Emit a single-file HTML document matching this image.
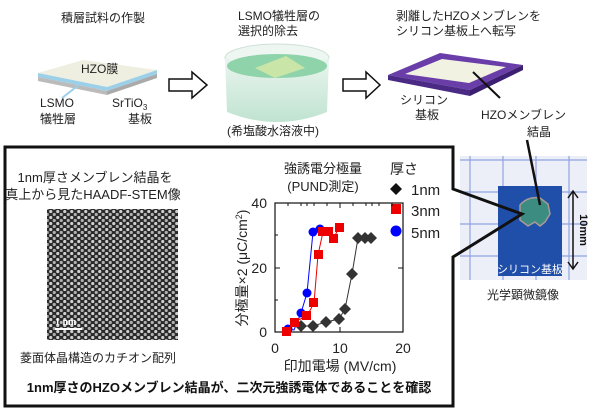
<!DOCTYPE html>
<html><head><meta charset="utf-8"><style>
html,body{margin:0;padding:0;background:#fff;}
svg{display:block;font-family:"Liberation Sans","Noto Sans CJK JP",sans-serif;}
</style></head><body>
<svg width="600" height="415" viewBox="0 0 600 415" xmlns="http://www.w3.org/2000/svg">
<defs>
<pattern id="dots" width="7" height="6" patternUnits="userSpaceOnUse">
<rect width="7" height="6" fill="#2a2a2a"/>
<circle cx="1.75" cy="1.5" r="1.6" fill="#d0d0d0"/>
<circle cx="5.25" cy="4.5" r="1.6" fill="#b0b0b0"/>
</pattern>
<linearGradient id="bk" x1="0" y1="0" x2="0" y2="1"><stop offset="0" stop-color="#e8f4ee"/><stop offset="1" stop-color="#b9e0cb"/></linearGradient>
</defs>
<g font-size="12" fill="#222">
<text x="103" y="22" text-anchor="middle">積層試料の作製</text>
<text x="238" y="20">LSMO犠牲層の</text>
<text x="238" y="35">選択的除去</text>
<text x="396" y="20">剥離したHZOメンブレンを</text>
<text x="396" y="35">シリコン基板上へ転写</text>
</g>
<!-- slab -->
<polygon points="38,73 83,60 157,70 107,87" fill="#eeefe0"/>
<polygon points="38,73 107,87 107,91 38,77" fill="#9ccfe8"/>
<polygon points="107,87 157,70 157,74 107,91" fill="#9ccfe8"/>
<polygon points="38,77 107,91 107,95 38,81" fill="#bbb"/>
<polygon points="107,91 157,74 157,78 107,95" fill="#aaa"/>
<line x1="80" y1="84" x2="62" y2="98" stroke="#9ccfe8" stroke-width="2"/>
<text x="81" y="73" font-size="12" fill="#222">HZO膜</text>
<g font-size="12" fill="#222">
<text x="40" y="107">LSMO</text><text x="40" y="123">犠牲層</text>
<text x="112" y="107">SrTiO<tspan font-size="8" dy="3">3</tspan></text><text x="128" y="123">基板</text>
</g>
<!-- arrows -->
<polygon points="169,79 192,79 192,72 207,85 192,98 192,91 169,91" fill="#fff" stroke="#111" stroke-width="1.5"/>
<polygon points="343,79 366,79 366,72 380,85 366,98 366,91 343,91" fill="#fff" stroke="#111" stroke-width="1.5"/>
<!-- beaker -->
<ellipse cx="277" cy="58" rx="52" ry="14" fill="#eef6f2" stroke="#cfe0d8"/>
<path d="M225,58 L227,112 Q277,132 327,112 L329,58 Q277,76 225,58Z" fill="url(#bk)" opacity="0.9"/>
<ellipse cx="277" cy="66" rx="50" ry="12" fill="#8fd3aa"/>
<polygon points="255,68 286,56 305,68 275,78" fill="#c9e5a8"/>
<text x="227" y="135" font-size="12" fill="#222">(希塩酸水溶液中)</text>
<!-- purple frame -->
<polygon points="388,75 440,53 523,65 470,90" fill="#6a3ea8"/>
<polygon points="388,75 470,90 470,96 388,80" fill="#4b2a85"/>
<polygon points="470,90 523,65 523,70 470,96" fill="#3c1f70"/>
<polygon points="405,74 442,59 506,67 469,83" fill="#f1f2e2"/>
<line x1="473" y1="72" x2="500" y2="98" stroke="#111" stroke-width="2"/>
<g font-size="12" fill="#222">
<text x="400" y="104">シリコン</text><text x="415" y="119">基板</text>
<text x="481" y="119">HZOメンブレン</text><text x="527" y="136">結晶</text>
</g>
<!-- photo -->
<rect x="460" y="156" width="127" height="124" fill="#eceef8"/>
<g stroke="#8fa3dd" stroke-width="1.2">
<line x1="460" y1="160" x2="587" y2="160"/><line x1="460" y1="192" x2="587" y2="192"/><line x1="460" y1="224" x2="587" y2="224"/><line x1="460" y1="256" x2="587" y2="256"/>
<line x1="470" y1="156" x2="470" y2="280"/><line x1="503" y1="156" x2="503" y2="280"/><line x1="536" y1="156" x2="536" y2="280"/><line x1="569" y1="156" x2="569" y2="280"/>
</g>
<rect x="498" y="186" width="64" height="90" fill="#1f4fa8"/>
<path d="M520,205 Q528,196 540,198 L548,204 L550,214 L545,222 L540,226 L535,222 L528,226 L520,220 Z" fill="#3c8c82" stroke="#a99" stroke-width="1.5"/>
<line x1="527" y1="140" x2="540" y2="205" stroke="#111" stroke-width="2.5"/>
<line x1="573" y1="192" x2="573" y2="268" stroke="#111" stroke-width="1.5"/>
<polyline points="568,198 573,191 578,198" fill="none" stroke="#111" stroke-width="1.5"/>
<polyline points="568,262 573,269 578,262" fill="none" stroke="#111" stroke-width="1.5"/>
<text transform="translate(580,230) rotate(90)" font-size="11" font-weight="bold" text-anchor="middle" fill="#111">10mm</text>
<text x="530" y="273" font-size="11" text-anchor="middle" fill="#fff">シリコン基板</text>
<text x="523" y="299" font-size="12" text-anchor="middle" fill="#222">光学顕微鏡像</text>
<!-- main box with callout -->
<path d="M5,147 L453,147 L453,189 L522,214 L453,257 L453,406 L5,406 Z" fill="none" stroke="#111" stroke-width="3"/>
<g font-size="13" fill="#222">
<text x="95" y="182" text-anchor="middle">1nm厚さメンブレン結晶を</text>
<text x="93" y="199" text-anchor="middle">真上から見たHAADF-STEM像</text>
<text x="98" y="362" text-anchor="middle" font-size="12">菱面体晶構造のカチオン配列</text>
</g>
<rect x="47" y="209" width="131" height="131" fill="url(#dots)"/>
<text x="55" y="325" font-size="10" font-family="Liberation Serif,serif" font-weight="bold" fill="#fff">1 nm</text>
<line x1="55" y1="329" x2="82" y2="329" stroke="#fff" stroke-width="2"/>
<text x="229" y="392" font-size="13" font-weight="bold" text-anchor="middle" fill="#111">1nm厚さのHZOメンブレン結晶が、二次元強誘電体であることを確認</text>
<!-- chart -->
<g font-size="13" fill="#222">
<text x="323" y="173" text-anchor="middle">強誘電分極量</text>
<text x="323" y="191" text-anchor="middle">(PUND測定)</text>
<text x="390" y="174" font-size="14">厚さ</text>
<text x="411" y="195" font-size="15">1nm</text><text x="411" y="216" font-size="15">3nm</text><text x="411" y="238" font-size="15">5nm</text>
<text x="267" y="208" text-anchor="end" font-size="14">40</text><text x="267" y="273" text-anchor="end" font-size="14">20</text><text x="267" y="337" text-anchor="end" font-size="14">0</text>
<text x="275" y="353" text-anchor="middle" font-size="14">0</text><text x="340" y="353" text-anchor="middle" font-size="14">10</text><text x="403" y="353" text-anchor="middle" font-size="14">20</text>
<text x="340" y="371" text-anchor="middle" font-size="14">印加電場 (MV/cm)</text>
<text transform="translate(247,268) rotate(-90)" text-anchor="middle" font-size="14">分極量×2 (μC/cm<tspan font-size="9" dy="-5">2</tspan><tspan dy="5">)</tspan></text>
</g>
<polygon points="396,183 402,189 396,195 390,189" fill="#111"/>
<rect x="391" y="204" width="10" height="10" fill="#e00"/>
<circle cx="396" cy="231" r="5.5" fill="#00f"/>
<rect x="275" y="203" width="128" height="129" fill="none" stroke="#111" stroke-width="1.2"/>
<g stroke="#111" stroke-width="1">
<line x1="275" y1="268" x2="280" y2="268"/><line x1="403" y1="268" x2="398" y2="268"/>
<line x1="275" y1="235" x2="278" y2="235"/><line x1="275" y1="300" x2="278" y2="300"/>
<line x1="340" y1="332" x2="340" y2="327"/><line x1="340" y1="203" x2="340" y2="208"/>
<line x1="307" y1="203" x2="307" y2="206"/><line x1="372" y1="203" x2="372" y2="206"/>
<line x1="288" y1="203" x2="288" y2="206"/><line x1="301" y1="203" x2="301" y2="206"/><line x1="314" y1="203" x2="314" y2="206"/><line x1="327" y1="203" x2="327" y2="206"/><line x1="353" y1="203" x2="353" y2="206"/><line x1="366" y1="203" x2="366" y2="206"/><line x1="379" y1="203" x2="379" y2="206"/><line x1="392" y1="203" x2="392" y2="206"/>
</g>
<!-- 1nm -->
<polyline points="301,326 313,326 326,322 339,319 345,309 352,274 358,238 365,238 371,238" fill="none" stroke="#333" stroke-width="1"/>
<g fill="#333">
<polygon points="301,320 307,326 301,332 295,326"/><polygon points="313,320 319,326 313,332 307,326"/><polygon points="326,316 332,322 326,328 320,322"/><polygon points="339,313 345,319 339,325 333,319"/><polygon points="345,303 351,309 345,315 339,309"/><polygon points="352,268 358,274 352,280 346,274"/><polygon points="358,232 364,238 358,244 352,238"/><polygon points="365,232 371,238 365,244 359,238"/><polygon points="371,232 377,238 371,244 365,238"/>
</g>
<!-- 5nm -->
<polyline points="288,329 294,330 301,313 307,293 313,232 320,229" fill="none" stroke="#00f" stroke-width="1"/>
<g fill="#00f"><circle cx="288" cy="329" r="4.5"/><circle cx="301" cy="313" r="4.5"/><circle cx="307" cy="293" r="4.5"/><circle cx="313" cy="232" r="4.5"/><circle cx="320" cy="229" r="4.5"/></g>
<!-- 3nm -->
<polyline points="287,332 294,322 307,316 314,303 318,255 323,232 327,232 333,239 339,228" fill="none" stroke="#e00" stroke-width="1"/>
<g fill="#e00"><rect x="282" y="327" width="9" height="9"/><rect x="290" y="318" width="9" height="9"/><rect x="302" y="311" width="9" height="9"/><rect x="309" y="298" width="9" height="9"/><rect x="314" y="250" width="9" height="9"/><rect x="318" y="227" width="9" height="9"/><rect x="324" y="227" width="9" height="9"/><rect x="329" y="234" width="9" height="9"/><rect x="335" y="223" width="9" height="9"/></g>
</svg>
</body></html>
